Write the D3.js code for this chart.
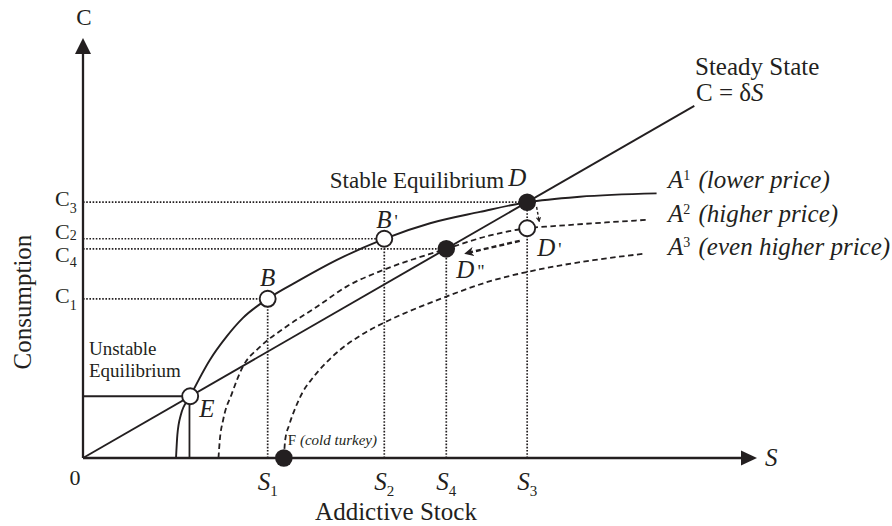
<!DOCTYPE html>
<html><head><meta charset="utf-8">
<script src="https://cdn.jsdelivr.net/npm/d3@7"></script>
<style>
body{margin:0;background:#fff}
svg{display:block}
text{font-family:"Liberation Serif","Times New Roman",serif;fill:#231f20}
</style>
</head><body>
<svg id="chart" width="892" height="526"></svg>
<script>
// ---------- data (S = addictive stock, C = consumption, arbitrary units) ----------
const a1S = [13.8, 14.0, 14.5, 15.9, 18.8, 21.3, 23.7, 27.4, 32.2, 37.6, 44.7, 51.5, 58.9, 65.9, 73.7, 85.1];
const a1C = [0, 5.5, 10.2, 14.7, 23.3, 28.9, 33.3, 37.9, 42.4, 47.1, 52.2, 55.9, 58.6, 60.9, 62.2, 63.0];
const a2S = [20.1, 20.3, 20.8, 22.1, 23.7, 26.3, 30.2, 34.7, 39.1, 44.6, 52.5, 53.9, 60.4, 65.9, 69.8, 83.6];
const a2C = [0, 4.3, 9.1, 15.4, 21.7, 26.5, 31.3, 36.0, 40.8, 44.8, 49.1, 49.8, 53.0, 54.7, 55.2, 56.7];
const a3S = [29.8, 30.0, 30.6, 31.5, 32.6, 34.1, 35.9, 38.1, 41.1, 44.5, 48.5, 53.7, 60.4, 65.9, 75.7, 83.1];
const a3C = [0, 4.3, 7.9, 11.9, 15.7, 19.1, 22.4, 25.7, 29.1, 32.1, 35.0, 38.3, 42.1, 44.3, 47.1, 48.6];
const curveNames = ["A1", "A2", "A3"];
const curveLabels = ["(lower price)", "(higher price)", "(even higher price)"];

const delta = 0.9245;          // steady state C = δS
const steadyEndS = 90.7;

const pointNames  = ["E", "B", "B'", "D", "D'", "D\"", "F"];
const pointS      = [15.9, 27.4, 44.7, 65.9, 65.9, 53.9, 29.8];
const pointC      = [14.7, 37.9, 52.2, 60.9, 54.7, 49.8, 0];
const pointFilled = [false, false, false, true, false, true, true];

const sTickNames  = ["1", "2", "4", "3"];
const sTickValues = [27.4, 44.7, 53.9, 65.9];
const sTickTopC   = [37.9, 52.2, 49.8, 60.9];
const cTickNames  = ["1", "2", "4", "3"];
const cTickValues = [37.9, 52.2, 49.8, 60.9];
const cTickEndS   = [27.4, 44.7, 53.9, 65.9];

const arrowFrom = [[67.3, 59.8], [64.8, 51.7]];
const arrowTo   = [[67.7, 56.2], [56.7, 48.7]];

// ---------- drawing ----------
const ink = "#231f20";
const svg = d3.select("#chart");
const x = d3.scaleLinear().domain([0, 100]).range([83, 757]);
const y = d3.scaleLinear().domain([0, 100]).range([458, 38]);

const defs = svg.append("defs");
defs.append("marker").attr("id", "ah").attr("viewBox", "0 0 10 10")
  .attr("refX", 9).attr("refY", 5).attr("markerWidth", 4).attr("markerHeight", 4)
  .attr("orient", "auto").attr("markerUnits", "strokeWidth")
  .append("path").attr("d", "M0,0 L10,5 L0,10 L3,5 z").attr("fill", ink);

// dotted guide lines
const dotted = svg.append("g").attr("stroke", ink).attr("stroke-width", 1.7)
  .attr("stroke-dasharray", "1.6,1.6").attr("fill", "none");
cTickValues.forEach((c, i) => {
  dotted.append("line").attr("x1", x(0)).attr("x2", x(cTickEndS[i])).attr("y1", y(c)).attr("y2", y(c));
});
sTickValues.forEach((s, i) => {
  dotted.append("line").attr("x1", x(s)).attr("x2", x(s)).attr("y1", y(0)).attr("y2", y(sTickTopC[i]));
});

// unstable equilibrium guides (solid)
svg.append("line").attr("x1", x(0)).attr("x2", x(pointS[0])).attr("y1", y(pointC[0])).attr("y2", y(pointC[0]))
  .attr("stroke", ink).attr("stroke-width", 1.8);
svg.append("line").attr("x1", x(pointS[0]) - 0.7).attr("x2", x(pointS[0]) - 0.7).attr("y1", y(0)).attr("y2", y(pointC[0]))
  .attr("stroke", ink).attr("stroke-width", 1.8);

// curves
const line = d3.line().x(d => x(d[0])).y(d => y(d[1])).curve(d3.curveMonotoneX);
const curves = [d3.zip(a1S, a1C), d3.zip(a2S, a2C), d3.zip(a3S, a3C)];
curves.forEach((pts, i) => {
  svg.append("path").attr("d", line(pts)).attr("fill", "none").attr("stroke", ink)
    .attr("stroke-width", i === 0 ? 1.9 : 1.8)
    .attr("stroke-dasharray", i === 0 ? null : "5.5,3.5");
});

// steady state line
svg.append("line").attr("x1", x(0)).attr("y1", y(0)).attr("x2", x(steadyEndS)).attr("y2", y(delta * steadyEndS))
  .attr("stroke", ink).attr("stroke-width", 1.9);

// dashed arrows
arrowFrom.forEach((f, i) => {
  svg.append("line").attr("x1", x(f[0])).attr("y1", y(f[1])).attr("x2", x(arrowTo[i][0])).attr("y2", y(arrowTo[i][1]))
    .attr("stroke", ink).attr("stroke-width", i === 0 ? 1.4 : 2.4)
    .attr("stroke-dasharray", i === 0 ? "3,2" : "5,3")
    .attr("marker-end", "url(#ah)");
});

// axes
svg.append("line").attr("x1", x(0)).attr("y1", y(0)).attr("x2", x(100) - 12).attr("y2", y(0))
  .attr("stroke", ink).attr("stroke-width", 2.3);
svg.append("line").attr("x1", x(0)).attr("y1", y(0)).attr("x2", x(0)).attr("y2", y(100) + 12)
  .attr("stroke", ink).attr("stroke-width", 2.3);
svg.append("path").attr("fill", ink)
  .attr("d", `M${x(100)},${y(0)} L${x(100) - 16},${y(0) - 7.5} L${x(100) - 16},${y(0) + 7.5} Z`);
svg.append("path").attr("fill", ink)
  .attr("d", `M${x(0)},${y(100)} L${x(0) - 8},${y(100) + 16} L${x(0) + 8},${y(100) + 16} Z`);

// points
pointNames.forEach((n, i) => {
  svg.append("circle").attr("cx", x(pointS[i])).attr("cy", y(pointC[i]))
    .attr("r", pointFilled[i] ? 8.8 : 8)
    .attr("fill", pointFilled[i] ? ink : "#fff")
    .attr("stroke", ink).attr("stroke-width", pointFilled[i] ? 0 : 1.9);
});

// ---------- text ----------
const T = (xx, yy, size, opts = {}) => svg.append("text").attr("x", xx).attr("y", yy)
  .attr("font-size", size).attr("text-anchor", opts.anchor || "start")
  .attr("font-style", opts.italic ? "italic" : null);

T(x(0) + 1, 25, 23, {anchor: "middle"}).text("C");
T(x(100) + 8, y(0) + 8, 25, {italic: true}).text("S");
T(x(0) - 8, 485, 22, {anchor: "middle"}).text("0");
T(0, 0, 25, {anchor: "middle"}).attr("transform", `translate(31,302) rotate(-90)`).text("Consumption");
T((x(0) + x(100)) / 2 - 24, 520, 25, {anchor: "middle"}).text("Addictive Stock");

// C tick labels (C2 nudged up, C4 nudged down so they do not collide)
const cNudge = {"1": 4, "2": 0, "4": 13, "3": 4};
const cSubDrop = {"1": 7, "2": 1, "4": 5, "3": 7};
cTickNames.forEach((n, i) => {
  const t = T(55, y(cTickValues[i]) + cNudge[n], 22);
  t.append("tspan").text("C");
  t.append("tspan").attr("font-size", 14).attr("dy", cSubDrop[n]).text(n);
});
// S tick labels
sTickNames.forEach((n, i) => {
  const t = T(x(sTickValues[i]) - 10, 490, 25);
  t.append("tspan").attr("font-style", "italic").text("S");
  t.append("tspan").attr("font-size", 15).attr("dy", 6).text(n);
});

// point labels
const pl = (i, dx, dy, txt, suffix) => {
  const t = T(x(pointS[i]) + dx, y(pointC[i]) + dy, 25);
  t.append("tspan").attr("font-style", "italic").text(txt);
  if (suffix) t.append("tspan").attr("font-size", 18).attr("dx", 3).text(suffix);
  return t;
};
pl(0, 9, 21, "E");
T(x(pointS[1]), y(pointC[1]) - 13, 25, {italic: true, anchor: "middle"}).text("B");
pl(2, -8, -11, "B", "'");
pl(3, -19, -16, "D");
pl(4, 10, 28, "D", "'");
pl(5, 10, 29, "D", "\"");
{
  const t = T(x(pointS[6]) + 4, y(pointC[6]) - 13, 15);
  t.append("tspan").text("F ");
  t.append("tspan").attr("font-style", "italic").text("(cold turkey)");
}

T(x(pointS[3]) - 23, 188, 23, {anchor: "end"}).text("Stable Equilibrium");
T(89, 355, 19).text("Unstable");
T(89, 377, 19).text("Equilibrium");

T(695, 75, 25).text("Steady State");
{
  const t = T(696, 101, 25);
  t.append("tspan").text("C = δ");
  t.append("tspan").attr("font-style", "italic").text("S");
}

const labelBase = [188, 222, 255];
curveNames.forEach((n, i) => {
  const t = T(668, labelBase[i], 25);
  t.append("tspan").attr("font-style", "italic").text(n[0]);
  t.append("tspan").attr("font-size", 14).attr("dy", -8).text(n[1]);
  t.append("tspan").attr("font-style", "italic").attr("dy", 8).attr("dx", 2).text(" " + curveLabels[i]);
});
</script>
</body></html>
